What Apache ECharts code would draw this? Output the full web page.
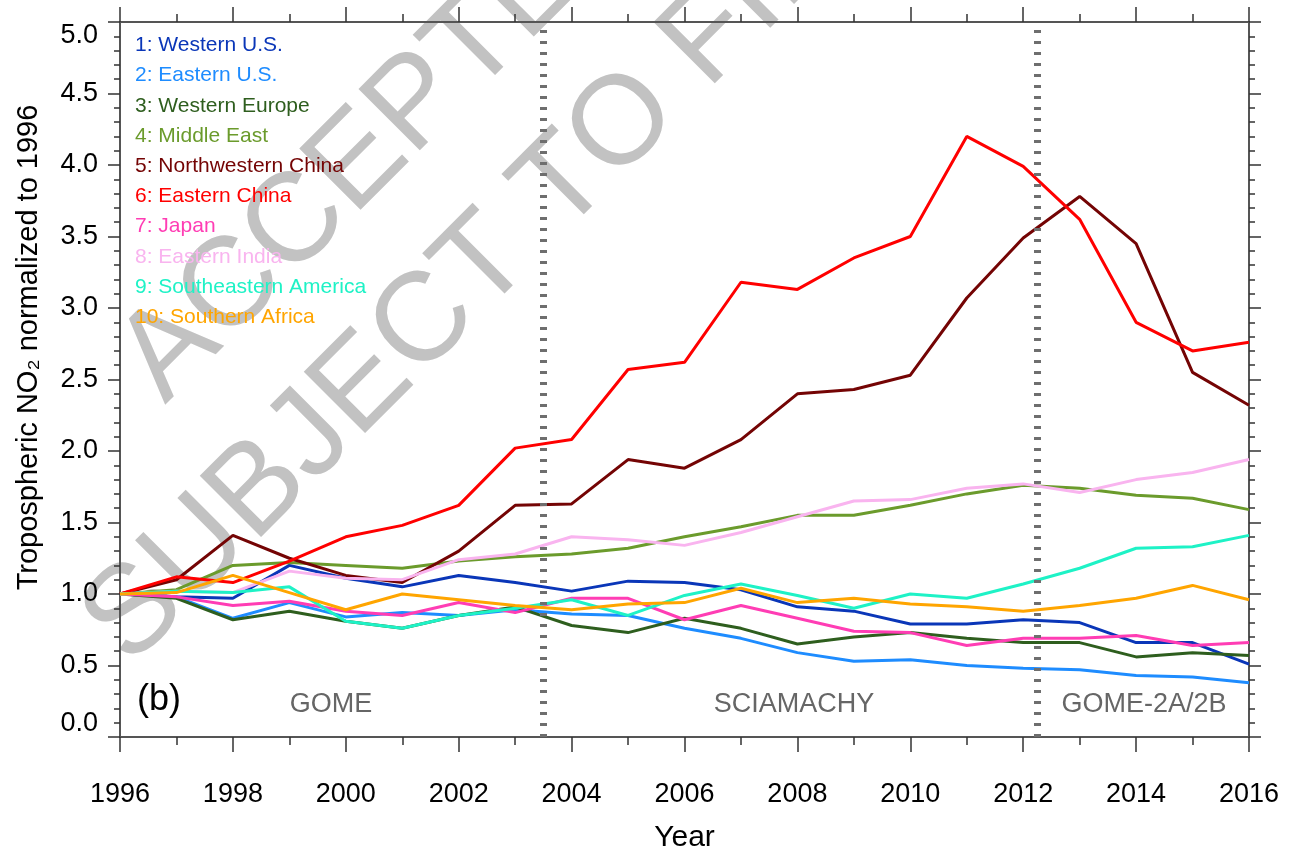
<!DOCTYPE html>
<html>
<head>
<meta charset="utf-8">
<title>Tropospheric NO2 normalized to 1996</title>
<script src="https://cdn.jsdelivr.net/npm/echarts@6.0.0/dist/echarts.min.js"></script>
<style>
  html, body { margin: 0; padding: 0; background: #fff; }
  #chart { width: 1294px; height: 852px; }
</style>
</head>
<body>
<div id="chart"></div>
<script>
// years on the x axis
const years = [1996, 1997, 1998, 1999, 2000, 2001, 2002, 2003, 2004, 2005, 2006,
  2007, 2008, 2009, 2010, 2011, 2012, 2013, 2014, 2015, 2016]

// NO2 columns normalized to 1996
const westernUS = [1.00, 0.98, 0.97, 1.20, 1.11, 1.05, 1.13, 1.08, 1.02, 1.09, 1.08, 1.03, 0.91, 0.88, 0.79, 0.79, 0.82, 0.80, 0.66, 0.66, 0.51]
const easternUS = [1.00, 0.98, 0.83, 0.94, 0.84, 0.87, 0.85, 0.89, 0.86, 0.85, 0.76, 0.69, 0.59, 0.53, 0.54, 0.50, 0.48, 0.47, 0.43, 0.42, 0.38]
const westernEurope = [1.00, 0.97, 0.82, 0.88, 0.81, 0.76, 0.85, 0.91, 0.78, 0.73, 0.83, 0.76, 0.65, 0.70, 0.73, 0.69, 0.66, 0.66, 0.56, 0.59, 0.57]
const middleEast = [1.00, 1.03, 1.20, 1.22, 1.20, 1.18, 1.23, 1.26, 1.28, 1.32, 1.40, 1.47, 1.55, 1.55, 1.62, 1.70, 1.76, 1.74, 1.69, 1.67, 1.59]
const nwChina = [1.00, 1.10, 1.41, 1.25, 1.13, 1.08, 1.30, 1.62, 1.63, 1.94, 1.88, 2.08, 2.40, 2.43, 2.53, 3.07, 3.49, 3.78, 3.45, 2.55, 2.32]
const easternChina = [1.00, 1.12, 1.08, 1.23, 1.40, 1.48, 1.62, 2.02, 2.08, 2.57, 2.62, 3.18, 3.13, 3.35, 3.50, 4.20, 3.99, 3.62, 2.90, 2.70, 2.76]
const japan = [1.00, 0.98, 0.92, 0.95, 0.88, 0.85, 0.94, 0.87, 0.97, 0.97, 0.82, 0.92, 0.83, 0.74, 0.73, 0.64, 0.69, 0.69, 0.71, 0.64, 0.66]
const easternIndia = [1.00, 1.02, 1.01, 1.16, 1.11, 1.10, 1.24, 1.28, 1.40, 1.38, 1.34, 1.43, 1.54, 1.65, 1.66, 1.74, 1.77, 1.71, 1.80, 1.85, 1.94]
const seAmerica = [1.00, 1.02, 1.01, 1.05, 0.81, 0.76, 0.85, 0.90, 0.96, 0.85, 0.99, 1.07, 0.99, 0.90, 1.00, 0.97, 1.07, 1.18, 1.32, 1.33, 1.41]
const southernAfrica = [1.00, 1.01, 1.13, 1.01, 0.89, 1.00, 0.96, 0.92, 0.89, 0.93, 0.94, 1.04, 0.94, 0.97, 0.93, 0.91, 0.88, 0.92, 0.97, 1.06, 0.96]

const regionNames = ['1: Western U.S.', '2: Eastern U.S.', '3: Western Europe', '4: Middle East',
  '5: Northwestern China', '6: Eastern China', '7: Japan', '8: Eastern India',
  '9: Southeastern America', '10: Southern Africa']
const regionValues = [westernUS, easternUS, westernEurope, middleEast, nwChina,
  easternChina, japan, easternIndia, seAmerica, southernAfrica]
const colors = ['#0a36b8', '#1e8cff', '#2e5e1e', '#6b9b2c', '#740404',
  '#ff0000', '#ff3db4', '#f9b4ef', '#1ef2c6', '#ffa500']

// instrument changes (GOME -> SCIAMACHY -> GOME-2A/2B)
const instrumentBreaks = [2003.5, 2012.25]

const font = '"Liberation Sans", Arial, Helvetica, sans-serif'
const axisColor = '#555'
const tickColor = '#333'

const baseAxis = {
  type: 'value',
  splitLine: { show: false },
  axisLine: { show: true, onZero: false, lineStyle: { color: axisColor, width: 2 } },
  axisTick: { show: true, inside: false, lineStyle: { color: tickColor, width: 1.5 } },
  minorTick: { show: true, lineStyle: { color: tickColor, width: 1.5 } }
}

const xBase = Object.assign({}, baseAxis, { min: 1996, max: 2016, interval: 2 })
const yBase = Object.assign({}, baseAxis, { min: 0, max: 5, interval: 0.5 })

const series = regionNames.map((name, i) => {
  const s = {
    name: name,
    type: 'line',
    xAxisIndex: 0,
    yAxisIndex: 0,
    symbol: 'none',
    lineStyle: { width: 3, color: colors[i] },
    itemStyle: { color: colors[i] },
    emphasis: { disabled: true },
    data: years.map((y, k) => [y, regionValues[i][k]])
  }
  if (i === 0) {
    s.markLine = {
      silent: true,
      symbol: 'none',
      label: { show: false },
      emphasis: { disabled: true },
      lineStyle: { color: '#6e6e6e', width: 7, type: [3, 8] },
      data: instrumentBreaks.map(v => ({ xAxis: v }))
    }
  }
  return s
})

const chart = echarts.init(document.getElementById('chart'))
chart.setOption({
  animation: false,
  backgroundColor: '#fff',
  textStyle: { fontFamily: font },
  grid: { left: 120, right: 45, top: 22, bottom: 115, outerBoundsMode: 'none' },
  legend: {
    orient: 'vertical',
    left: 125,
    top: 30,
    itemGap: 9.2,
    itemWidth: 0,
    itemHeight: 20,
    icon: 'rect',
    selectedMode: false,
    textStyle: { fontSize: 21, lineHeight: 21, fontFamily: font },
    data: regionNames.map((n, i) => ({ name: n, textStyle: { color: colors[i] } }))
  },
  xAxis: [
    Object.assign({}, xBase, {
      position: 'bottom',
      axisTick: Object.assign({}, baseAxis.axisTick, { length: 15 }),
      minorTick: Object.assign({}, baseAxis.minorTick, { splitNumber: 2, length: 8 }),
      axisLabel: { margin: 44, fontSize: 27, color: '#000', fontFamily: font, formatter: v => String(v) },
      name: 'Year',
      nameLocation: 'middle',
      nameGap: 86,
      nameTextStyle: { fontSize: 30, color: '#000', fontFamily: font }
    }),
    Object.assign({}, xBase, {
      position: 'top',
      axisTick: Object.assign({}, baseAxis.axisTick, { length: 15 }),
      minorTick: Object.assign({}, baseAxis.minorTick, { splitNumber: 2, length: 8 }),
      axisLabel: { show: false }
    })
  ],
  yAxis: [
    Object.assign({}, yBase, {
      position: 'left',
      axisTick: Object.assign({}, baseAxis.axisTick, { length: 12 }),
      minorTick: Object.assign({}, baseAxis.minorTick, { splitNumber: 5, length: 6 }),
      axisLabel: {
        margin: 22, fontSize: 27, color: '#000', fontFamily: font,
        formatter: v => v.toFixed(1),
        verticalAlignMinLabel: 'bottom',
        verticalAlignMaxLabel: 'top'
      },
      name: 'Tropospheric NO\u2082 normalized to 1996',
      nameLocation: 'middle',
      nameGap: 77,
      nameTextStyle: { fontSize: 29, color: '#000', fontFamily: font, padding: [0, 0, 0, 64] }
    }),
    Object.assign({}, yBase, {
      position: 'right',
      axisTick: Object.assign({}, baseAxis.axisTick, { length: 12 }),
      minorTick: Object.assign({}, baseAxis.minorTick, { splitNumber: 5, length: 6 }),
      axisLabel: { show: false }
    })
  ],
  graphic: [
    // watermark
    {
      type: 'text', x: 185, y: 425, rotation: Math.PI / 4, z: -10, silent: true,
      style: { text: 'ACCEPTED', fill: '#c2c2c2', font: '126px ' + font, textAlign: 'left', textVerticalAlign: 'bottom' }
    },
    {
      type: 'text', x: 150, y: 688, rotation: Math.PI / 4, z: -10, silent: true,
      style: { text: 'SUBJECT TO FINAL EDITS', fill: '#c2c2c2', font: '126px ' + font, textAlign: 'left', textVerticalAlign: 'bottom' }
    },
    // panel label and instrument names
    {
      type: 'text', x: 159, y: 700, z: 10,
      style: { text: '(b)', fill: '#000', font: '36px ' + font, textAlign: 'center', textVerticalAlign: 'middle' }
    },
    {
      type: 'text', x: 331, y: 705, z: 10,
      style: { text: 'GOME', fill: '#666', font: '27px ' + font, textAlign: 'center', textVerticalAlign: 'middle' }
    },
    {
      type: 'text', x: 794, y: 705, z: 10,
      style: { text: 'SCIAMACHY', fill: '#666', font: '27px ' + font, textAlign: 'center', textVerticalAlign: 'middle' }
    },
    {
      type: 'text', x: 1144, y: 705, z: 10,
      style: { text: 'GOME-2A/2B', fill: '#666', font: '27px ' + font, textAlign: 'center', textVerticalAlign: 'middle' }
    }
  ],
  series: series
})
</script>
</body>
</html>
